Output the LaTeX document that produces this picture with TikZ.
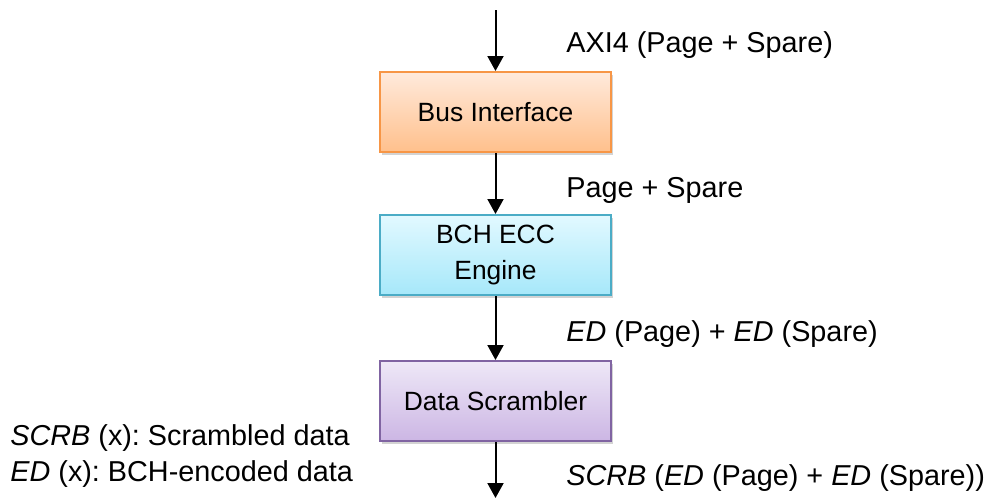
\documentclass[tikz,border=0pt]{standalone}
\usepackage{fontspec}
\setmainfont{Liberation Sans}
\usetikzlibrary{arrows.meta,shadows}
\frenchspacing
\definecolor{busedge}{HTML}{F79646}
\definecolor{bustop}{HTML}{FFEADC}
\definecolor{busbot}{HTML}{FFC08C}
\definecolor{eccedge}{HTML}{4BACC6}
\definecolor{ecctop}{HTML}{E2F9FF}
\definecolor{eccbot}{HTML}{A6E8FA}
\definecolor{scredge}{HTML}{8064A2}
\definecolor{scrtop}{HTML}{EEE8F7}
\definecolor{scrbot}{HTML}{CCB6E4}
\tikzset{
  x=0.5pt, y=-0.5pt,
  every node/.style={font=\fontsize{13.2}{15.8}\selectfont, inner sep=0pt},
  block/.style={minimum width=115.5pt, minimum height=40pt, line width=1pt,
    align=center, drop shadow={opacity=0.35, shadow xshift=0.8pt, shadow yshift=-1.6pt}},
  busblock/.style={block, draw=busedge, top color=bustop, bottom color=busbot},
  eccblock/.style={block, draw=eccedge, top color=ecctop, bottom color=eccbot},
  scrblock/.style={block, draw=scredge, top color=scrtop, bottom color=scrbot},
  flow/.style={line width=1pt, -{Triangle[width=8pt,length=7.5pt]}},
  lbl/.style={anchor=west, font=\fontsize{14.4}{17}\selectfont},
}
\begin{document}
\begin{tikzpicture}
\useasboundingbox (0,0) rectangle (992,498);
\node[busblock] (bus) at (495.5,112) {Bus Interface};
\node[eccblock] (ecc) at (495.5,255) {BCH ECC\\[2pt]Engine};
\node[scrblock] (scr) at (495.5,401) {Data Scrambler};
\coordinate (in) at (495.5,10);
\coordinate (out) at (495.5,498);
\draw[flow] (in) -- (bus);
\draw[flow] (bus) -- (ecc);
\draw[flow] (ecc) -- (scr);
\draw[flow] (scr) -- (out);
\node[lbl] (l1) at (566,45) {AXI4 (Page + Spare)};
\node[lbl] (l2) at (566,190) {Page + Spare};
\node[lbl] (l3) at (566,334) {\textit{ED} (Page) + \textit{ED} (Spare)};
\node[lbl] (l4) at (566,478) {\textit{SCRB} (\textit{ED} (Page) + \textit{ED} (Spare))};
\node[lbl] (n1) at (10,438) {\textit{SCRB} (x): Scrambled data};
\node[lbl] (n2) at (10,474) {\textit{ED} (x): BCH-encoded data};
\end{tikzpicture}
\end{document}
